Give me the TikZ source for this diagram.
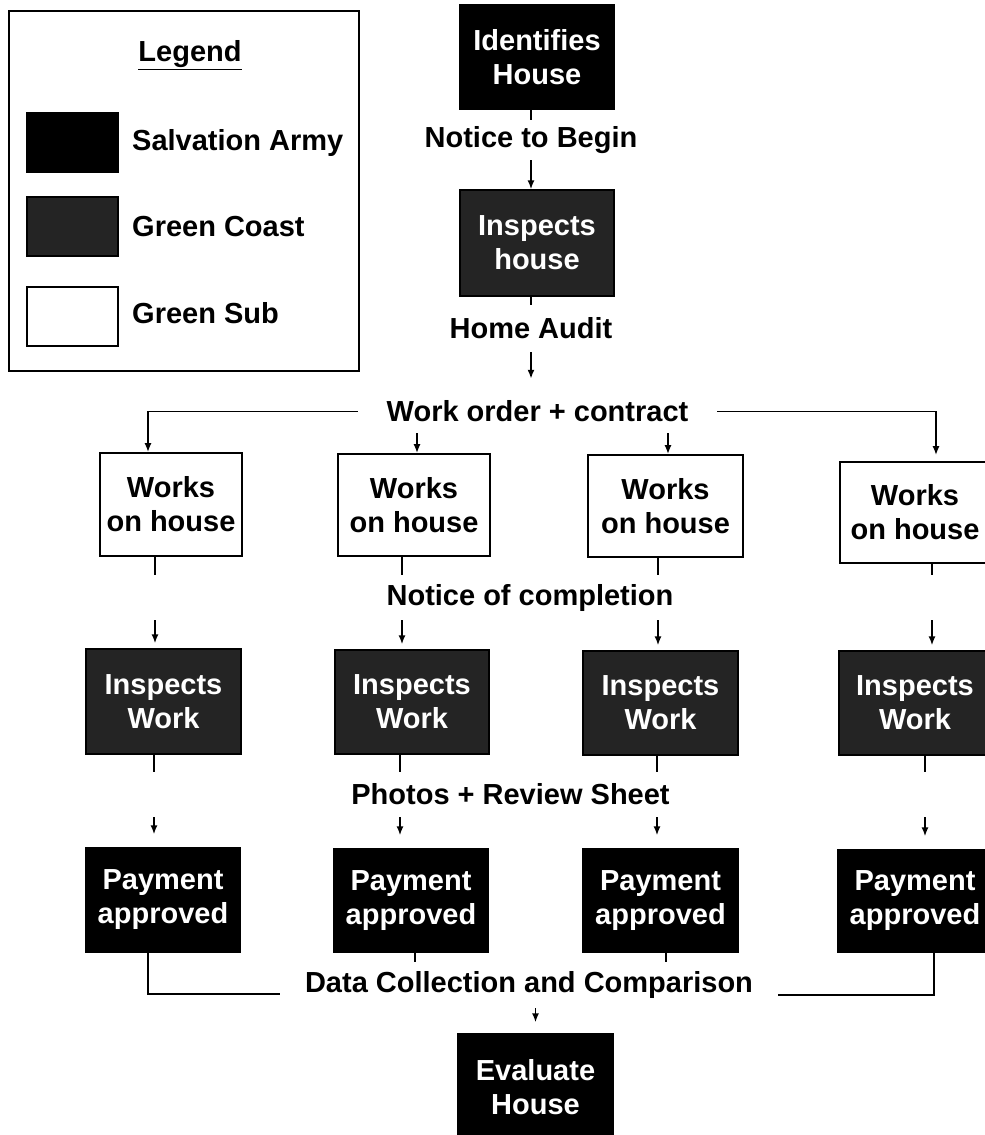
\documentclass[tikz,border=0pt]{standalone}
\usepackage{fontspec}
\setmainfont{Liberation Sans}
\usetikzlibrary{arrows.meta}
\begin{document}
\begin{tikzpicture}[x=1pt,y=-1pt,
  font=\fontsize{29}{34}\selectfont\bfseries,
  salv/.style={draw=black, fill=black, text=white, line width=1.2pt,
    align=center, inner sep=0pt, minimum width=154pt, minimum height=104pt},
  coast/.style={salv, fill=black!86},
  sub/.style={draw=black, fill=white, line width=1.6pt, align=center,
    inner sep=0pt, minimum width=152pt, minimum height=102pt},
  lbl/.style={inner sep=0pt, minimum height=45pt},
  conn/.style={line width=1.8pt},
  arr/.style={conn, -{Latex[length=9pt,width=7pt]}},
]
\useasboundingbox (0,0) rectangle (985,1135);

% ---- legend ----
\node[draw, line width=1.6pt, minimum width=350pt, minimum height=360pt, inner sep=0pt] (legend) at (184,191) {};
\node (legtitle) at (190,55) {\underline{Legend}};
\node[salv, minimum width=91pt, minimum height=59pt] (sw1) at (72.5,142.5) {};
\node[coast, minimum width=91pt, minimum height=59pt] (sw2) at (72.5,226.5) {};
\node[sub, minimum width=91pt, minimum height=59pt] (sw3) at (72.5,316.5) {};
\node[anchor=west, inner sep=0pt] (lg1) at (132,143) {Salvation Army};
\node[anchor=west, inner sep=0pt] (lg2) at (132,227) {Green Coast};
\node[anchor=west, inner sep=0pt] (lg3) at (132,313) {Green Sub};

% ---- top chain ----
\node[salv] (ih) at (537,57) {Identifies\\House};
\node[lbl, minimum height=40pt] (nb) at (531,140) {Notice to Begin};
\node[coast, minimum height=106pt] (iho) at (537,243) {Inspects\\house};
\node[lbl, minimum height=47pt] (ha) at (531,328.5) {Home Audit};
\node[lbl, minimum height=43pt, minimum width=359pt] (wo) at (537.5,411.5) {Work order + contract};

\draw[conn] (ih.south -| nb) -- (nb.north);
\draw[arr] (nb.south) -- (nb.south |- iho.north);
\draw[conn] (iho.south -| ha) -- (ha.north);
\draw[arr, shorten >=11pt] (ha.south) -- (ha.south |- wo.north);

% ---- subcontractor work ----
\node[sub, minimum width=142pt, minimum height=103pt] (w1) at (171,504.5) {Works\\on house};
\node[sub] (w2) at (414,505) {Works\\on house};
\node[sub, minimum width=155pt] (w3) at (665.5,506) {Works\\on house};
\node[sub, minimum width=150pt, minimum height=101pt] (w4) at (915,512.5) {Works\\on house};

\coordinate (k2) at ([xshift=3pt]w2.north);
\coordinate (k3) at ([xshift=2.5pt]w3.north);
\draw[arr] (wo.west) -| ([xshift=-23pt]w1.north);
\draw[arr] (wo.south -| k2) -- (k2);
\draw[arr] (wo.south -| k3) -- (k3);
\draw[arr, shorten >=6pt] (wo.east) -| ([xshift=21pt]w4.north);

\node[lbl] (nc) at (530,597.5) {Notice of completion};

% ---- inspections ----
\node[coast, minimum width=155pt, minimum height=105pt] (i1) at (163.5,701.5) {Inspects\\Work};
\node[coast] (i2) at (412,702) {Inspects\\Work};
\node[coast, minimum width=155pt] (i3) at (660.5,703) {Inspects\\Work};
\node[coast, minimum width=152pt] (i4) at (915,703) {Inspects\\Work};

\coordinate (a1) at ([xshift=-16pt]w1.south);
\coordinate (a2) at ([xshift=-12pt]w2.south);
\coordinate (a3) at ([xshift=-7.5pt]w3.south);
\coordinate (a4) at ([xshift=17pt]w4.south);
\foreach \c/\t in {a1/i1,a2/i2,a3/i3,a4/i4}{
  \draw[conn] (\c) -- (\c |- nc.north);
  \draw[arr, shorten >=5pt] (\c |- nc.south) -- (\c |- \t.north);
}

\node[lbl] (pr) at (510.5,794.5) {Photos + Review Sheet};

% ---- payments ----
\node[salv] (p1) at (163,900) {Payment\\approved};
\node[salv, minimum height=103pt] (p2) at (411,900.5) {Payment\\approved};
\node[salv, minimum width=155pt, minimum height=103pt] (p3) at (660.5,900.5) {Payment\\approved};
\node[salv, minimum height=102pt] (p4) at (915,901) {Payment\\approved};

\coordinate (b1) at ([xshift=-9.5pt]i1.south);
\coordinate (b2) at ([xshift=-12pt]i2.south);
\coordinate (b3) at ([xshift=-3.5pt]i3.south);
\coordinate (b4) at ([xshift=10pt]i4.south);
\foreach \c/\t in {b1/p1,b2/p2,b3/p3,b4/p4}{
  \draw[conn] (\c) -- (\c |- pr.north);
  \draw[arr, shorten >=13pt] (\c |- pr.south) -- (\c |- \t.north);
}

% ---- evaluation ----
\node[lbl, minimum height=46pt, minimum width=498pt] (dc) at (529,985) {Data Collection and Comparison};
\node[salv, minimum width=155pt, minimum height=106pt] (ev) at (535.5,1087) {Evaluate\\House};

\coordinate (d1) at ([xshift=-15pt]p1.south);
\coordinate (d2) at ([xshift=4pt]p2.south);
\coordinate (d3) at ([xshift=5.5pt]p3.south);
\coordinate (d4) at ([xshift=19pt]p4.south);
\draw[conn] (d1) |- ([yshift=-9pt]dc.west);
\draw[conn] (d2) -- (d2 |- dc.north);
\draw[conn] (d3) -- (d3 |- dc.north);
\draw[conn] (d4) |- ([yshift=-10pt]dc.east);
\draw[arr, shorten >=11pt] (dc.south -| ev) -- (ev.north);
\end{tikzpicture}
\end{document}
